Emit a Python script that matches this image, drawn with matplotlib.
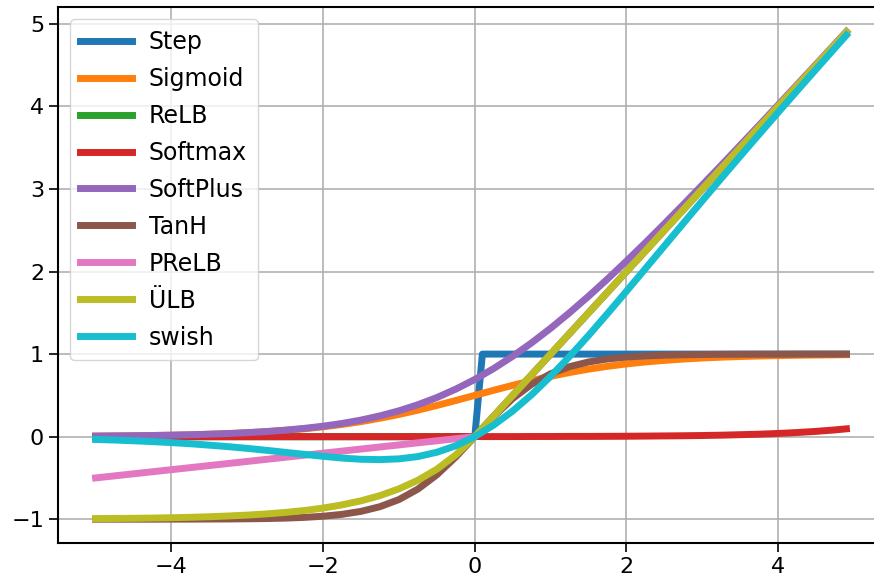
import matplotlib
matplotlib.use("Agg")
import matplotlib.pyplot as plt

# sample points
x = [-5.0, -4.75, -4.5, -4.25, -4.0, -3.75, -3.5, -3.25, -3.0, -2.75,
     -2.5, -2.25, -2.0, -1.75, -1.5, -1.25, -1.0, -0.75, -0.5, -0.25,
     0.0, 0.25, 0.5, 0.75, 1.0, 1.25, 1.5, 1.75, 2.0, 2.25,
     2.5, 2.75, 3.0, 3.25, 3.5, 3.75, 4.0, 4.25, 4.5, 4.75, 4.9]

step_x = [-5.0, 0.0, 0.1, 4.9]
step_y = [0.0, 0.0, 1.0, 1.0]

sigmoid = [0.007, 0.009, 0.011, 0.014, 0.018, 0.023, 0.029, 0.037, 0.047, 0.060,
           0.076, 0.095, 0.119, 0.148, 0.182, 0.223, 0.269, 0.321, 0.378, 0.438,
           0.500, 0.562, 0.622, 0.679, 0.731, 0.777, 0.818, 0.852, 0.881, 0.905,
           0.924, 0.940, 0.953, 0.963, 0.971, 0.977, 0.982, 0.986, 0.989, 0.991, 0.993]

relu = [0.0, 0.0, 0.0, 0.0, 0.0, 0.0, 0.0, 0.0, 0.0, 0.0,
        0.0, 0.0, 0.0, 0.0, 0.0, 0.0, 0.0, 0.0, 0.0, 0.0,
        0.0, 0.25, 0.5, 0.75, 1.0, 1.25, 1.5, 1.75, 2.0, 2.25,
        2.5, 2.75, 3.0, 3.25, 3.5, 3.75, 4.0, 4.25, 4.5, 4.75, 4.9]

softmax = [0.0, 0.0, 0.0, 0.0, 0.0, 0.0, 0.0, 0.0, 0.0, 0.0,
           0.0, 0.0, 0.0, 0.0, 0.0, 0.0, 0.0, 0.0, 0.0, 0.001,
           0.001, 0.001, 0.001, 0.002, 0.002, 0.003, 0.003, 0.004, 0.005, 0.007,
           0.009, 0.011, 0.014, 0.018, 0.024, 0.030, 0.039, 0.050, 0.064, 0.082, 0.095]

softplus = [0.007, 0.009, 0.011, 0.014, 0.018, 0.023, 0.030, 0.038, 0.049, 0.062,
            0.079, 0.100, 0.127, 0.160, 0.201, 0.252, 0.313, 0.387, 0.474, 0.576,
            0.693, 0.826, 0.974, 1.137, 1.313, 1.502, 1.701, 1.910, 2.127, 2.350,
            2.579, 2.812, 3.049, 3.288, 3.530, 3.773, 4.018, 4.264, 4.511, 4.759, 4.907]

tanh = [-1.0, -1.0, -1.0, -1.0, -0.999, -0.999, -0.998, -0.997, -0.995, -0.992,
        -0.987, -0.978, -0.964, -0.941, -0.905, -0.848, -0.762, -0.635, -0.462, -0.245,
        0.0, 0.245, 0.462, 0.635, 0.762, 0.848, 0.905, 0.941, 0.964, 0.978,
        0.987, 0.992, 0.995, 0.997, 0.998, 0.999, 0.999, 1.0, 1.0, 1.0, 1.0]

prelu = [-0.5, -0.475, -0.45, -0.425, -0.4, -0.375, -0.35, -0.325, -0.3, -0.275,
         -0.25, -0.225, -0.2, -0.175, -0.15, -0.125, -0.1, -0.075, -0.05, -0.025,
         0.0, 0.25, 0.5, 0.75, 1.0, 1.25, 1.5, 1.75, 2.0, 2.25,
         2.5, 2.75, 3.0, 3.25, 3.5, 3.75, 4.0, 4.25, 4.5, 4.75, 4.9]

elu = [-0.993, -0.991, -0.989, -0.986, -0.982, -0.977, -0.970, -0.961, -0.950, -0.936,
       -0.918, -0.895, -0.865, -0.826, -0.777, -0.714, -0.632, -0.528, -0.394, -0.221,
       0.0, 0.25, 0.5, 0.75, 1.0, 1.25, 1.5, 1.75, 2.0, 2.25,
       2.5, 2.75, 3.0, 3.25, 3.5, 3.75, 4.0, 4.25, 4.5, 4.75, 4.9]

swish = [-0.034, -0.041, -0.050, -0.060, -0.072, -0.086, -0.103, -0.121, -0.142, -0.165,
         -0.190, -0.214, -0.238, -0.259, -0.274, -0.278, -0.269, -0.241, -0.189, -0.110,
         0.0, 0.141, 0.311, 0.509, 0.731, 0.972, 1.226, 1.491, 1.762, 2.036,
         2.310, 2.585, 2.858, 3.129, 3.398, 3.664, 3.928, 4.190, 4.451, 4.709, 4.864]

series = [
    ("Step", step_x, step_y, "#1f77b4"),
    ("Sigmoid", x, sigmoid, "#ff7f0e"),
    ("ReLB", x, relu, "#2ca02c"),
    ("Softmax", x, softmax, "#d62728"),
    ("SoftPlus", x, softplus, "#9467bd"),
    ("TanH", x, tanh, "#8c564b"),
    ("PReLB", x, prelu, "#e377c2"),
    ("ÜLB", x, elu, "#bcbd22"),
    ("swish", x, swish, "#17becf"),
]

fig = plt.figure(figsize=(8.74, 5.86), dpi=100)
ax = fig.add_axes([0.0664, 0.0734, 0.945, 0.914])

for name, xs, ys, col in series:
    ax.plot(xs, ys, label=name, color=col, linewidth=5)

ax.set_xlim(-5.495, 5.395)
ax.set_ylim(-1.288, 5.2)
ax.set_xticks([-4, -2, 0, 2, 4])
ax.set_yticks([-1, 0, 1, 2, 3, 4, 5])
ax.tick_params(labelsize=16, length=6.5, width=1.2)
for s in ax.spines.values():
    s.set_linewidth(1.5)
ax.spines["right"].set_visible(False)
ax.grid(True, color="#b0b0b0", linewidth=1.2)
ax.legend(loc="upper left", fontsize=17, handlelength=2.2, handletextpad=0.7,
          labelspacing=0.55, borderpad=0.45)

fig.savefig("out.png", dpi=100)
